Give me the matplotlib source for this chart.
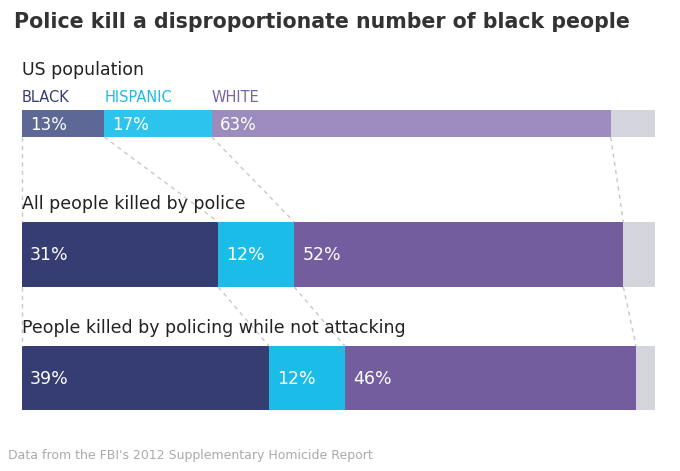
import matplotlib.pyplot as plt
import numpy as np

groups = ['BLACK', 'HISPANIC', 'WHITE', 'OTHER']
rows = ['US population', 'All people killed by police',
        'People killed by policing while not attacking']
population = [13, 17, 63, 7]
killed = [31, 12, 52, 5]
not_attacking = [39, 12, 46, 3]
shares = [population, killed, not_attacking]

colors_light = ['#5d6896', '#2cc3ec', '#9c8cbd', '#d4d4dc']
colors_dark = ['#353d72', '#1bbde8', '#735d9f', '#d4d4dc']
label_colors = ['#353d72', '#1bbde8', '#7a64a6']

fig = plt.figure(figsize=(6.8, 4.71), dpi=100)
ax = fig.add_axes([0, 0, 1, 1])
ax.set_xlim(0, 680)
ax.set_ylim(471, 0)
ax.axis('off')

x0, x1 = 22, 655
scale = (x1 - x0) / 100.0
bars = [(110, 27), (222, 65), (346, 64)]  # (top, height)

ax.text(14, 22, 'Police kill a disproportionate number of black people',
        fontsize=14.8, fontweight='bold', color='#333333', va='center', ha='left')

label_y = [70, 204, 328]
for r, (name, vals, (top, h)) in enumerate(zip(rows, shares, bars)):
    ax.text(22, label_y[r], name, fontsize=12.5, color='#222222', va='center')
    cols = colors_light if r == 0 else colors_dark
    lefts = x0 + np.concatenate([[0], np.cumsum(vals)[:-1]]) * scale
    ax.barh(top + h / 2, np.array(vals) * scale, left=lefts, height=h,
            color=cols, edgecolor='none')
    for i in range(3):
        ax.text(lefts[i] + 8, top + h / 2 + 1, f'{vals[i]}%', color='white',
                fontsize=12 if r == 0 else 12.5, va='center', ha='left')

# group labels above first bar
lefts0 = x0 + np.concatenate([[0], np.cumsum(population)[:-1]]) * scale
for i in range(3):
    ax.text(lefts0[i], 98, groups[i], color=label_colors[i], fontsize=10.5,
            va='center', ha='left')

# dashed connectors
for r in range(2):
    a, b = shares[r], shares[r + 1]
    ya = bars[r][0] + bars[r][1]
    yb = bars[r + 1][0]
    ca = x0 + np.concatenate([[0], np.cumsum(a)]) * scale
    cb = x0 + np.concatenate([[0], np.cumsum(b)]) * scale
    for k in range(len(ca) - 1):
        ax.plot([ca[k], cb[k]], [ya, yb], ls=(0, (3, 3)), color='#c8c8c8', lw=1)

ax.text(8, 456, "Data from the FBI's 2012 Supplementary Homicide Report",
        fontsize=9, color='#aaaaaa', va='center')

fig.savefig('out.png', dpi=100, facecolor='white')
